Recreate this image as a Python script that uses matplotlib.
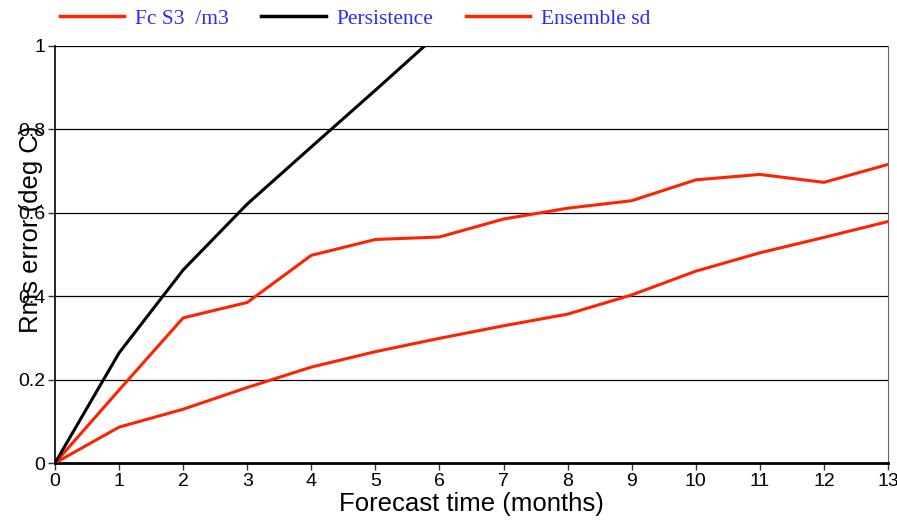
import matplotlib.pyplot as plt
import numpy as np

months = np.arange(0, 14)

# Rms error of the S3 forecast (deg C)
fc_s3 = [0.0, 0.175, 0.348, 0.385, 0.498, 0.536, 0.542, 0.585, 0.611, 0.629,
         0.679, 0.692, 0.673, 0.716]
# Ensemble spread
ens_sd = [0.0, 0.086, 0.129, 0.181, 0.230, 0.267, 0.299, 0.329, 0.357, 0.403,
          0.460, 0.504, 0.541, 0.579]
# Persistence runs off the top after month 5
persist_months = [0, 1, 2, 3, 4, 5, 6]
persistence = [0.0, 0.264, 0.463, 0.621, 0.758, 0.894, 1.032]

RED = "#ff2200"
BLUE = "#2a2aff"

plt.rcParams["font.family"] = ["Liberation Sans", "DejaVu Sans"]

fig = plt.figure(figsize=(8.97, 5.24), dpi=100)
ax = fig.add_axes([55 / 897, 1 - 463 / 524, (888 - 55) / 897, (463 - 46) / 524])

for y in [0.2, 0.4, 0.6, 0.8, 1.0]:
    ax.axhline(y, color="black", linewidth=0.9, zorder=1)

ax.plot(months, ens_sd, color=RED, linewidth=2.2, zorder=3)
ax.plot(months, fc_s3, color=RED, linewidth=2.2, zorder=3)
ax.plot(persist_months, persistence, color="black", linewidth=2.2, zorder=4)

ax.set_xlim(0, 13)
ax.set_ylim(0, 1)
ax.set_xticks(months)
ax.set_yticks([0, 0.2, 0.4, 0.6, 0.8, 1])
ax.set_yticklabels(["0", "0.2", "0.4", "0.6", "0.8", "1"])
ax.tick_params(axis="both", labelsize=14, length=5, width=1, color="#333333", pad=2)

ax.spines["top"].set_visible(False)
ax.spines["right"].set_color("#666666")
ax.spines["left"].set_linewidth(1.2)
ax.spines["bottom"].set_linewidth(2)

ax.set_xlabel("Forecast time (months)", fontsize=18.5, labelpad=2)
ax.set_ylabel("Rms error (deg C)", fontsize=18.5)
ax.yaxis.set_label_coords(-0.014, 0.56)

# legend row above the plot
handles = [
    plt.Line2D([], [], color=RED, linewidth=2.5),
    plt.Line2D([], [], color="black", linewidth=2.5),
    plt.Line2D([], [], color=RED, linewidth=2.5),
]
leg = fig.legend(handles, ["Fc S3  /m3", "Persistence", "Ensemble sd"],
                 loc="upper left", bbox_to_anchor=(0.045, 1.02), ncol=3, frameon=False,
                 handlelength=3.0, handletextpad=0.5, columnspacing=1.5,
                 prop={"family": "Liberation Serif", "size": 15.5})
for t in leg.get_texts():
    t.set_color(BLUE)

fig.savefig("out.png", dpi=100)
